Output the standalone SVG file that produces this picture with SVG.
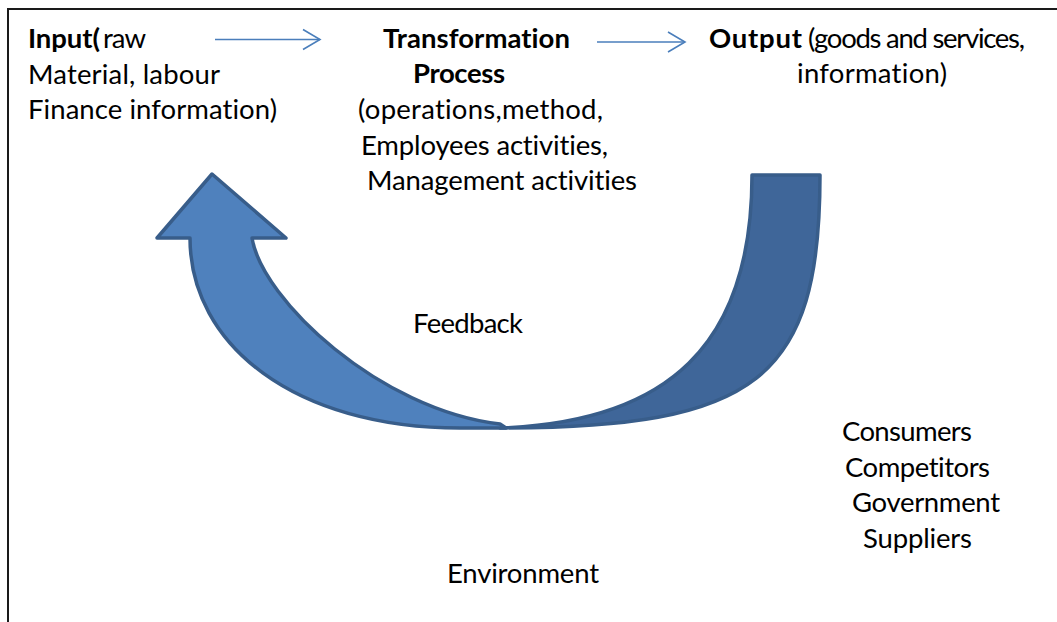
<svg xmlns="http://www.w3.org/2000/svg" width="1057" height="622" viewBox="0 0 1057 622">
<style>
  .t { font-family: Lato, "Liberation Sans", sans-serif; font-size: 27.5px; fill: #000; font-variant-ligatures: none; font-feature-settings: "liga" 0, "clig" 0; }
  .b { font-weight: bold; }
  .conn { stroke: #4a7ebb; stroke-width: 1.6; fill: none; }
  .frame { stroke: #1a1a1a; stroke-width: 2; fill: none; }
  .band { stroke: #385d8a; stroke-width: 3.5; stroke-linejoin: round; }
</style>
<defs>
  <marker id="open" viewBox="0 0 20 24" refX="18" refY="12" markerWidth="20" markerHeight="24" markerUnits="userSpaceOnUse" orient="auto">
    <path d="M1,2 L18,12 L1,22" fill="none" stroke="#4a7ebb" stroke-width="1.6"/>
  </marker>
</defs>
<rect width="1057" height="622" fill="#fff"/>
<g id="frame">
  <path class="frame" d="M8,622 L8,9 L1057,9"/>
</g>
<g id="feedback-arrow">
  <path class="band" d="M752,175 L820,175 C820,380 756,428 500,428 C668,422 752,345 752,175 Z" fill="#3f6699"/>
  <path class="band" d="M190,238 L157,238 L212,174 L286,238 L252,238 C262,300 380,410 500,424 L506,428 C490,428 470,428 460,428 C295,428 190,345 190,238 Z" fill="#4f81bd"/>
</g>
<g id="node-input">
  <text class="t b" x="28" y="48" textLength="72">Input(</text>
  <text class="t" x="103" y="48" textLength="43">raw</text>
  <text class="t" x="28" y="83.5" textLength="192">Material, labour</text>
  <text class="t" x="28" y="119" textLength="249">Finance information)</text>
</g>
<g id="node-transformation">
  <text class="t b" x="383" y="47.5" textLength="187">Transformation</text>
  <text class="t b" x="413" y="83" textLength="92">Process</text>
  <text class="t" x="358" y="119" textLength="245">(operations,method,</text>
  <text class="t" x="361" y="155" textLength="247">Employees activities,</text>
  <text class="t" x="367" y="190" textLength="270">Management activities</text>
</g>
<g id="node-output">
  <text class="t b" x="709" y="47.5" textLength="93">Output</text>
  <text class="t" x="808" y="47.5" textLength="217">(goods and services,</text>
  <text class="t" x="797" y="83" textLength="150">information)</text>
</g>
<g id="node-feedback">
  <text class="t" x="413" y="333" textLength="110">Feedback</text>
</g>
<g id="node-factors">
  <text class="t" x="842" y="441" textLength="130">Consumers</text>
  <text class="t" x="845" y="477" textLength="145">Competitors</text>
  <text class="t" x="852" y="512" textLength="148">Government</text>
  <text class="t" x="863" y="548" textLength="109">Suppliers</text>
</g>
<g id="node-environment">
  <text class="t" x="447" y="583" textLength="152">Environment</text>
</g>
<g id="connectors">
  <line class="conn" x1="215" y1="39.5" x2="320" y2="39.5" marker-end="url(#open)"/>
  <line class="conn" x1="597" y1="42" x2="685" y2="42" marker-end="url(#open)"/>
</g>
</svg>
